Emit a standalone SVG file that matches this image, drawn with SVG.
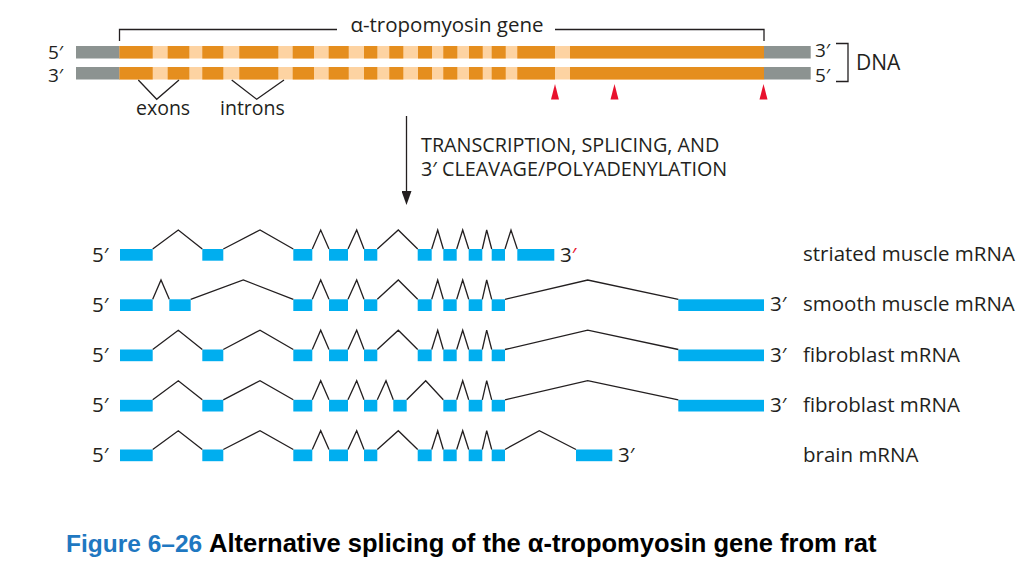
<svg xmlns="http://www.w3.org/2000/svg" width="1034" height="574" viewBox="0 0 1034 574">
<defs>
<style>
.t{font-family:"Open Sans","Noto Sans","DejaVu Sans",sans-serif;fill:#231F20}
.lab{font-size:20.5px}
.sm{font-size:19.5px}
.big{font-size:19px}
.gray{fill:#8C9391}
.ex{fill:#E58E1E}
.in{fill:#FDD3A2}
.mr{fill:#00AEEF}
.ln{fill:none;stroke:#231F20;stroke-width:1.3;stroke-linejoin:miter}
.red{fill:#E8112D}
.cap{font-family:"Liberation Sans",Arial,sans-serif;font-weight:bold;font-size:24.5px}
</style>
<marker id="ah" viewBox="0 0 14 10" refX="1" refY="5" markerWidth="14" markerHeight="10" markerUnits="userSpaceOnUse" orient="auto">
<path d="M0,0 L14,5 L0,10 Z" fill="#231F20"/>
</marker>
</defs>
<rect width="1034" height="574" fill="#fff"/>

<g id="dna">
<g id="strand-top">
<rect class="gray" x="76" y="46" width="44" height="12.5"/>
<rect class="in" x="119.5" y="46" width="645" height="12.5"/>
<rect class="ex" x="119.5" y="46" width="33.2" height="12.5"/>
<rect class="ex" x="167.7" y="46" width="21.6" height="12.5"/>
<rect class="ex" x="202.3" y="46" width="21" height="12.5"/>
<rect class="ex" x="239.3" y="46" width="39" height="12.5"/>
<rect class="ex" x="292.7" y="46" width="21.3" height="12.5"/>
<rect class="ex" x="328.7" y="46" width="20" height="12.5"/>
<rect class="ex" x="364" y="46" width="13.3" height="12.5"/>
<rect class="ex" x="389.3" y="46" width="14" height="12.5"/>
<rect class="ex" x="418" y="46" width="14" height="12.5"/>
<rect class="ex" x="443.3" y="46" width="14" height="12.5"/>
<rect class="ex" x="469" y="46" width="13.7" height="12.5"/>
<rect class="ex" x="491.7" y="46" width="14" height="12.5"/>
<rect class="ex" x="517.3" y="46" width="37.7" height="12.5"/>
<rect class="ex" x="570" y="46" width="194" height="12.5"/>
<rect class="gray" x="764" y="46" width="46.7" height="12.5"/>
</g>
<g id="strand-bottom">
<rect class="gray" x="76" y="67" width="44" height="12.5"/>
<rect class="in" x="119.5" y="67" width="645" height="12.5"/>
<rect class="ex" x="119.5" y="67" width="33.2" height="12.5"/>
<rect class="ex" x="167.7" y="67" width="21.6" height="12.5"/>
<rect class="ex" x="202.3" y="67" width="21" height="12.5"/>
<rect class="ex" x="239.3" y="67" width="39" height="12.5"/>
<rect class="ex" x="292.7" y="67" width="21.3" height="12.5"/>
<rect class="ex" x="328.7" y="67" width="20" height="12.5"/>
<rect class="ex" x="364" y="67" width="13.3" height="12.5"/>
<rect class="ex" x="389.3" y="67" width="14" height="12.5"/>
<rect class="ex" x="418" y="67" width="14" height="12.5"/>
<rect class="ex" x="443.3" y="67" width="14" height="12.5"/>
<rect class="ex" x="469" y="67" width="13.7" height="12.5"/>
<rect class="ex" x="491.7" y="67" width="14" height="12.5"/>
<rect class="ex" x="517.3" y="67" width="37.7" height="12.5"/>
<rect class="ex" x="570" y="67" width="194" height="12.5"/>
<rect class="gray" x="764" y="67" width="46.7" height="12.5"/>
</g>
<text class="t big" x="48" y="59">5′</text>
<text class="t big" x="48" y="81.5">3′</text>
<text class="t big" x="815" y="57">3′</text>
<text class="t big" x="815" y="81.5">5′</text>
<text class="t" x="856" y="70" font-size="21">DNA</text>
<text class="t lab" x="447" y="32" text-anchor="middle">α-tropomyosin gene</text>
<text class="t sm" x="136" y="115">exons</text>
<text class="t sm" x="220" y="115">introns</text>
<polygon class="red" points="551,99.5 559,99.5 555,84"/>
<polygon class="red" points="610.5,99.5 618.5,99.5 614.5,84"/>
<polygon class="red" points="759.5,99.5 767.5,99.5 763.5,84"/>
</g>

<g id="process">
<text class="t" x="421" y="152.3" font-size="19.8">TRANSCRIPTION, SPLICING, AND</text>
<text class="t" x="421" y="175.5" font-size="19.8">3′ CLEAVAGE/POLYADENYLATION</text>
</g>

<g id="mrna-striated">
<text class="t lab" x="92" y="261.5">5′</text>
<rect class="mr" x="120" y="249" width="32.7" height="11.7"/>
<rect class="mr" x="202.3" y="249" width="21" height="11.7"/>
<rect class="mr" x="293.3" y="249" width="19" height="11.7"/>
<rect class="mr" x="329" y="249" width="19" height="11.7"/>
<rect class="mr" x="364" y="249" width="13.3" height="11.7"/>
<rect class="mr" x="417.7" y="249" width="14" height="11.7"/>
<rect class="mr" x="443.3" y="249" width="13.4" height="11.7"/>
<rect class="mr" x="468.7" y="249" width="13.6" height="11.7"/>
<rect class="mr" x="491.7" y="249" width="13.3" height="11.7"/>
<rect class="mr" x="517.3" y="249" width="37" height="11.7"/>
<text class="t lab" x="560" y="261.5">3<tspan fill="#E8112D">′</tspan></text>
<text class="t lab" x="803" y="261">striated muscle mRNA</text>
</g>

<g id="mrna-smooth">
<text class="t lab" x="92" y="311.8">5′</text>
<rect class="mr" x="120" y="299.3" width="32.7" height="11.7"/>
<rect class="mr" x="169.3" y="299.3" width="21.4" height="11.7"/>
<rect class="mr" x="293.3" y="299.3" width="19" height="11.7"/>
<rect class="mr" x="329" y="299.3" width="19" height="11.7"/>
<rect class="mr" x="364" y="299.3" width="13.3" height="11.7"/>
<rect class="mr" x="417.7" y="299.3" width="14" height="11.7"/>
<rect class="mr" x="443.3" y="299.3" width="13.4" height="11.7"/>
<rect class="mr" x="468.7" y="299.3" width="13.6" height="11.7"/>
<rect class="mr" x="491.7" y="299.3" width="13.3" height="11.7"/>
<rect class="mr" x="678.3" y="299.3" width="85.7" height="11.7"/>
<text class="t lab" x="770" y="311.3">3′</text>
<text class="t lab" x="803" y="311.3">smooth muscle mRNA</text>
</g>

<g id="mrna-fibroblast-1">
<text class="t lab" x="92" y="362">5′</text>
<rect class="mr" x="120" y="349.5" width="32.7" height="11.7"/>
<rect class="mr" x="202.3" y="349.5" width="21" height="11.7"/>
<rect class="mr" x="293.3" y="349.5" width="19" height="11.7"/>
<rect class="mr" x="329" y="349.5" width="19" height="11.7"/>
<rect class="mr" x="364" y="349.5" width="13.3" height="11.7"/>
<rect class="mr" x="417.7" y="349.5" width="14" height="11.7"/>
<rect class="mr" x="443.3" y="349.5" width="13.4" height="11.7"/>
<rect class="mr" x="468.7" y="349.5" width="13.6" height="11.7"/>
<rect class="mr" x="491.7" y="349.5" width="13.3" height="11.7"/>
<rect class="mr" x="678.3" y="349.5" width="85.7" height="11.7"/>
<text class="t lab" x="770" y="361.5">3′</text>
<text class="t lab" x="803" y="361.5">fibroblast mRNA</text>
</g>

<g id="mrna-fibroblast-2">
<text class="t lab" x="92" y="412.3">5′</text>
<rect class="mr" x="120" y="399.8" width="32.7" height="11.7"/>
<rect class="mr" x="202.3" y="399.8" width="21" height="11.7"/>
<rect class="mr" x="293.3" y="399.8" width="19" height="11.7"/>
<rect class="mr" x="329" y="399.8" width="19" height="11.7"/>
<rect class="mr" x="364" y="399.8" width="13.3" height="11.7"/>
<rect class="mr" x="393.3" y="399.8" width="13.4" height="11.7"/>
<rect class="mr" x="443.3" y="399.8" width="13.4" height="11.7"/>
<rect class="mr" x="468.7" y="399.8" width="13.6" height="11.7"/>
<rect class="mr" x="491.7" y="399.8" width="13.3" height="11.7"/>
<rect class="mr" x="678.3" y="399.8" width="85.7" height="11.7"/>
<text class="t lab" x="770" y="411.8">3′</text>
<text class="t lab" x="803" y="411.8">fibroblast mRNA</text>
</g>

<g id="mrna-brain">
<text class="t lab" x="92" y="462">5′</text>
<rect class="mr" x="120" y="449.5" width="32.7" height="11.7"/>
<rect class="mr" x="202.3" y="449.5" width="21" height="11.7"/>
<rect class="mr" x="293.3" y="449.5" width="19" height="11.7"/>
<rect class="mr" x="329" y="449.5" width="19" height="11.7"/>
<rect class="mr" x="364" y="449.5" width="13.3" height="11.7"/>
<rect class="mr" x="417.7" y="449.5" width="14" height="11.7"/>
<rect class="mr" x="443.3" y="449.5" width="13.4" height="11.7"/>
<rect class="mr" x="468.7" y="449.5" width="13.6" height="11.7"/>
<rect class="mr" x="491.7" y="449.5" width="13.3" height="11.7"/>
<rect class="mr" x="576" y="449.5" width="36.3" height="11.7"/>
<text class="t lab" x="618" y="461.5">3′</text>
<text class="t lab" x="803" y="461.5">brain mRNA</text>
</g>

<g id="connectors">
<path class="ln" d="M119.5,41 V29.5 H337 M555,29.5 H764 V41"/>
<path class="ln" d="M836,43.5 H848 V81.5 H836"/>
<path class="ln" d="M138.3,80 L156.7,99.3 L179,80"/>
<path class="ln" d="M231.7,80 L256.7,99.3 L284,80"/>
<line class="ln" x1="406.5" y1="116" x2="406.5" y2="192" marker-end="url(#ah)"/>
<path class="ln" d="M152.7,249 L178.3,230 L202.3,249 M223.3,249 L260,230 L293.3,249 M312.3,249 L320.7,230 L329,249 M348,249 L356.7,230 L364,249 M377.3,249 L398.3,230 L417.7,249 M431.7,249 L437.7,230 L443.3,249 M456.7,249 L462.7,230 L468.7,249 M482.3,249 L486.7,230 L491.7,249 M505,249 L511,230 L517.3,249"/>
<path class="ln" d="M152.7,299.3 L161,280 L169.3,299.3 M190.7,299.3 L243.3,280 L293.3,299.3 M312.3,299.3 L320.7,280 L329,299.3 M348,299.3 L356.7,280 L364,299.3 M377.3,299.3 L398.3,280 L417.7,299.3 M431.7,299.3 L437.7,280 L443.3,299.3 M456.7,299.3 L462.7,280 L468.7,299.3 M482.3,299.3 L486.7,280 L491.7,299.3 M505,299.3 L587.7,280 L678.3,299.3"/>
<path class="ln" d="M152.7,349.5 L178.3,330.2 L202.3,349.5 M223.3,349.5 L260,330.2 L293.3,349.5 M312.3,349.5 L320.7,330.2 L329,349.5 M348,349.5 L356.7,330.2 L364,349.5 M377.3,349.5 L398.3,330.2 L417.7,349.5 M431.7,349.5 L437.7,330.2 L443.3,349.5 M456.7,349.5 L462.7,330.2 L468.7,349.5 M482.3,349.5 L486.7,330.2 L491.7,349.5 M505,349.5 L587.7,330.2 L678.3,349.5"/>
<path class="ln" d="M152.7,399.8 L178.3,380.7 L202.3,399.8 M223.3,399.8 L260,380.7 L293.3,399.8 M312.3,399.8 L320.7,380.7 L329,399.8 M348,399.8 L356.7,380.7 L364,399.8 M377.3,399.8 L386,380.7 L393.3,399.8 M406.7,399.8 L425.7,380.7 L443.3,399.8 M456.7,399.8 L462.7,380.7 L468.7,399.8 M482.3,399.8 L486.7,380.7 L491.7,399.8 M505,399.8 L587.7,380.7 L678.3,399.8"/>
<path class="ln" d="M152.7,449.5 L178.3,430.7 L202.3,449.5 M223.3,449.5 L260,430.7 L293.3,449.5 M312.3,449.5 L320.7,430.7 L329,449.5 M348,449.5 L356.7,430.7 L364,449.5 M377.3,449.5 L398.3,430.7 L417.7,449.5 M431.7,449.5 L437.7,430.7 L443.3,449.5 M456.7,449.5 L462.7,430.7 L468.7,449.5 M482.3,449.5 L486.7,430.7 L491.7,449.5 M505,449.5 L539.3,430.7 L576,449.5"/>
</g>

<g id="caption">
<text class="cap" x="66" y="552" fill="#1F78C1">Figure 6–26 <tspan fill="#000" font-size="25.5px">Alternative splicing of the α-tropomyosin gene from rat</tspan></text>
</g>
</svg>
